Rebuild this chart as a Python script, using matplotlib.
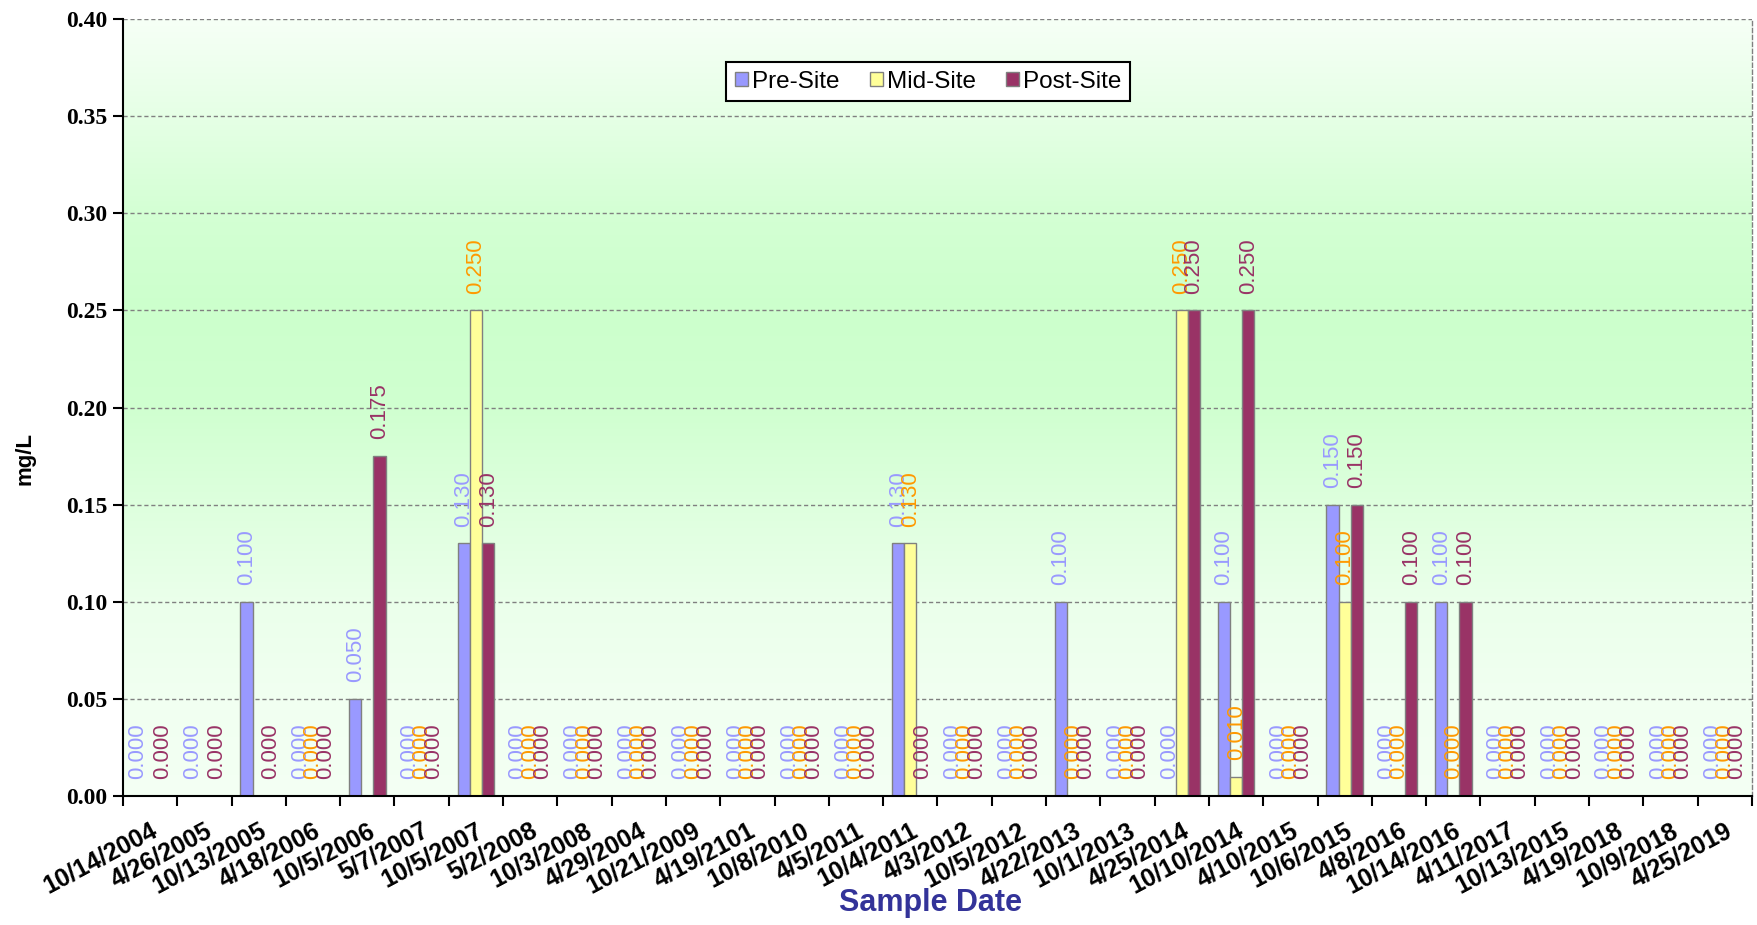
import numpy as np
import matplotlib
matplotlib.use('Agg')
import matplotlib.pyplot as plt
from matplotlib.patches import Patch

nan = np.nan
dates = ["10/14/2004", "4/26/2005", "10/13/2005", "4/18/2006", "10/5/2006",
         "5/7/2007", "10/5/2007", "5/2/2008", "10/3/2008", "4/29/2004",
         "10/21/2009", "4/19/2101", "10/8/2010", "4/5/2011", "10/4/2011",
         "4/3/2012", "10/5/2012", "4/22/2013", "10/1/2013", "4/25/2014",
         "10/10/2014", "4/10/2015", "10/6/2015", "4/8/2016", "10/14/2016",
         "4/11/2017", "10/13/2015", "4/19/2018", "10/9/2018", "4/25/2019"]
pre_site = [0.000, 0.000, 0.100, 0.000, 0.050, 0.000, 0.130, 0.000, 0.000, 0.000,
            0.000, 0.000, 0.000, 0.000, 0.130, 0.000, 0.000, 0.100, 0.000, 0.000,
            0.100, 0.000, 0.150, 0.000, 0.100, 0.000, 0.000, 0.000, 0.000, 0.000]
mid_site = [nan, nan, nan, 0.000, nan, 0.000, 0.250, 0.000, 0.000, 0.000,
            0.000, 0.000, 0.000, 0.000, 0.130, 0.000, 0.000, 0.000, 0.000, 0.250,
            0.010, 0.000, 0.100, 0.000, 0.000, 0.000, 0.000, 0.000, 0.000, 0.000]
post_site = [0.000, 0.000, 0.000, 0.000, 0.175, 0.000, 0.130, 0.000, 0.000, 0.000,
             0.000, 0.000, 0.000, 0.000, 0.000, 0.000, 0.000, 0.000, 0.000, 0.250,
             0.250, 0.000, 0.150, 0.100, 0.100, 0.000, 0.000, 0.000, 0.000, 0.000]
series_names = ["Pre-Site", "Mid-Site", "Post-Site"]
y_ticks = [0.00, 0.05, 0.10, 0.15, 0.20, 0.25, 0.30, 0.35, 0.40]

bar_colors = ["#9999FF", "#FFFF99", "#993366"]
label_colors = ["#9999FF", "#FF9900", "#993366"]

W, H = 1758, 925
fig = plt.figure(figsize=(W / 100, H / 100), dpi=100)
fig.patch.set_facecolor("white")
L, R, T, B = 123, 1752, 19, 796
ax = fig.add_axes([L / W, 1 - B / H, (R - L) / W, (B - T) / H])

n = len(dates)
x = np.arange(n)
xmin, xmax = -0.5, n - 0.5
ymin, ymax = 0.0, 0.40

# gradient background
yy = np.linspace(ymax, ymin, 400)
stops_y = [0.00, 0.05, 0.10, 0.15, 0.20, 0.25, 0.30, 0.35, 0.40]
stops_g = [0.955, 0.945, 0.92, 0.87, 0.815, 0.80, 0.83, 0.90, 0.965]
g = np.interp(yy, stops_y, stops_g)
img = np.stack([g, np.ones_like(g), g], axis=-1)[:, None, :]
ax.imshow(img, extent=[xmin, xmax, ymin, ymax], aspect='auto', zorder=0,
          interpolation='bilinear')

bw = 0.225
offsets = [-bw, 0.0, bw]
for vals, off, bc, lc in zip([pre_site, mid_site, post_site], offsets, bar_colors, label_colors):
    v = np.array(vals, dtype=float)
    ax.bar(x + off, v, width=bw, color=bc, edgecolor="#808080", linewidth=1.0, zorder=2)
    for xi, vi in zip(x, v):
        if np.isnan(vi):
            continue
        ax.annotate(f"{vi:.3f}", (xi + off, vi), xytext=(0, 12), textcoords='offset points',
                    rotation=90, ha='center', va='bottom', color=lc, fontsize=16,
                    family='Liberation Sans', zorder=3)

ax.set_xlim(xmin, xmax)
ax.set_ylim(ymin, ymax)

ax.set_yticks(y_ticks)
ax.set_yticklabels([f"{t:.2f}" for t in y_ticks], fontsize=17, fontweight='bold',
                   family='Liberation Serif')
ax.yaxis.grid(True, linestyle=(0, (3, 2)), color='#808080', linewidth=1.0)
ax.set_axisbelow(True)
for gl in ax.yaxis.get_gridlines():
    gl.set_zorder(1)

ax.set_xticks(x)
ax.set_xticklabels(dates, rotation=28, ha='right', va='top', rotation_mode='anchor',
                   fontsize=18, fontweight='bold', family='Liberation Sans')
ax.set_xticks(np.arange(n + 1) - 0.5, minor=True)
ax.tick_params(axis='x', which='major', length=0, pad=16)
ax.tick_params(axis='x', which='minor', length=7, width=1.5, direction='out')
ax.tick_params(axis='y', which='major', length=7, width=1.5, direction='out', pad=4)

for s in ['left', 'bottom']:
    ax.spines[s].set_color('black')
    ax.spines[s].set_linewidth(1.5)
ax.spines['top'].set_visible(False)
ax.spines['right'].set_color('#808080')
ax.spines['right'].set_linestyle((0, (3, 2)))
ax.spines['right'].set_linewidth(1.0)

fig.text(25 / W, 1 - 458 / H, "mg/L", rotation=90, ha='center', va='center',
         fontsize=16, fontweight='bold', family='Liberation Sans')
fig.text(931 / W, 1 - 903 / H, "Sample Date", ha='center', va='center',
         fontsize=22, fontweight='bold', family='Liberation Sans', color='#333399')

handles = [Patch(facecolor=c, edgecolor='#808080', linewidth=1.0) for c in bar_colors]
leg = fig.legend(handles, series_names, loc='center', bbox_to_anchor=(928 / W, 1 - 81.5 / H),
                 ncol=3, frameon=True, fancybox=False, framealpha=1.0, edgecolor='black',
                 prop={'family': 'Liberation Sans', 'size': 17.5}, handlelength=0.55,
                 handleheight=0.55, handletextpad=0.15, columnspacing=1.25,
                 borderpad=0.35, borderaxespad=0)
leg.get_frame().set_linewidth(1.5)

fig.savefig("out.png", dpi=100, facecolor='white')
